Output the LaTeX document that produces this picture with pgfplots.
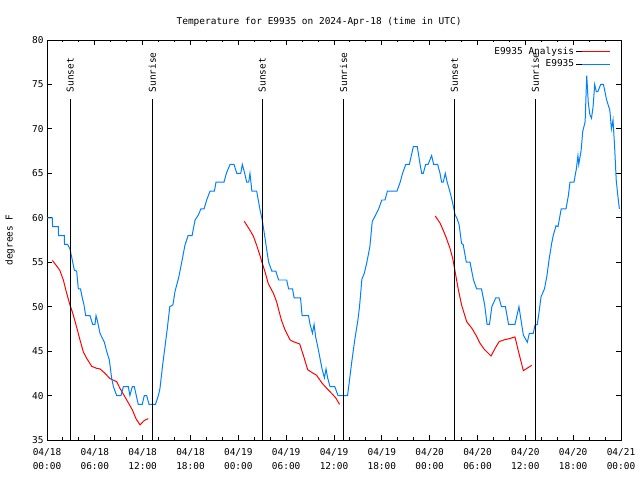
\documentclass[border=0pt]{standalone}
\usepackage{pgfplots}
\pgfplotsset{compat=1.18}
\usepackage{fontspec}
\setmainfont{DejaVu Sans Mono}
\definecolor{obsblue}{RGB}{0,128,255}
\definecolor{anared}{RGB}{255,0,0}
\begin{document}
\begin{tikzpicture}[font=\fontsize{9.5}{11}\selectfont]
\useasboundingbox (0,0) rectangle (640bp,480bp);
\begin{axis}[
  at={(47bp,40bp)}, anchor=south west,
  width=574bp, height=400bp, scale only axis,
  xmin=0, xmax=72, ymin=35, ymax=80,
  xtick={0,6,...,72},
  xticklabels={{04/18\\[3pt]00:00},{04/18\\[3pt]06:00},{04/18\\[3pt]12:00},{04/18\\[3pt]18:00},{04/19\\[3pt]00:00},{04/19\\[3pt]06:00},{04/19\\[3pt]12:00},{04/19\\[3pt]18:00},{04/20\\[3pt]00:00},{04/20\\[3pt]06:00},{04/20\\[3pt]12:00},{04/20\\[3pt]18:00},{04/21\\[3pt]00:00}},
  xticklabel style={align=center, yshift=-5bp},
  minor x tick num=2,
  ytick={35,40,...,80},
  /pgf/number format/assume math mode=true,
  tick align=inside,
  major tick length=5bp, minor tick length=2.5bp,
  tick style={black, line width=1pt},
  axis line style={line width=1pt},
  title={Temperature for E9935 on 2024-Apr-18 (time in UTC)},
  title style={at={(axis description cs:0.474,1)}, anchor=base, yshift=10bp},
  ylabel={degrees F},
  ylabel style={at={(axis description cs:-0.0645,0.5)}, anchor=center},
  legend style={at={(1,1)}, anchor=north east, draw=none, fill=none, xshift=-7bp, yshift=-3bp, row sep=0bp},
  legend cell align=right,
  legend plot pos=right,
  clip=false,
]
\addlegendimage{legend image code/.code={\path (0bp,0bp) -- (34bp,0bp); \draw[draw=anared, line width=1pt] (6bp,0bp) -- (34bp,0bp);}}
\addlegendentry{E9935 Analysis}
\addlegendimage{legend image code/.code={\path (0bp,0bp) -- (34bp,0bp); \draw[draw=obsblue, line width=1pt] (6bp,0bp) -- (34bp,0bp);}}
\addlegendentry{E9935}
% Analysis segment 1
\addplot[anared, line width=1pt, forget plot] coordinates {
(0.67,55.2) (1.2,54.6) (1.6,54.1) (2.05,53) (2.47,51.5) (2.88,50.2) (3.3,49.06) (3.7,47.75) (4.14,46.25) (4.56,44.9) (4.97,44.2) (5.6,43.3) (6.23,43.06) (6.65,43) (7.28,42.5) (7.9,41.9) (8.74,41.56) (9.16,40.8) (10.0,39.5) (10.7,38.4) (11.16,37.4) (11.67,36.7) (12.2,37.2) (12.7,37.4)
};
\addplot[obsblue, line width=1pt, forget plot] coordinates {
(0,60) (0.67,60) (0.7,59) (1.42,59) (1.45,58) (2.17,58) (2.2,57) (2.58,57) (2.88,56.5) (3.09,55.6) (3.43,54.1) (3.72,54) (3.93,52) (4.2,52) (4.4,51.1) (4.64,50.2) (4.85,49) (5.39,49) (5.73,48) (6.02,48) (6.15,49) (6.3,48.5) (6.65,47) (7.19,46) (7.48,45) (7.82,44) (8.1,42) (8.33,41) (8.74,40) (9.28,40) (9.58,41) (10.2,41) (10.4,40) (10.7,41) (10.95,41) (11.45,39) (11.95,39) (12.2,40) (12.5,40) (12.8,39) (13.6,39) (13.97,40) (14.17,40.8) (14.5,43.4) (14.8,45.5) (15.1,47.6) (15.4,50) (15.8,50.2) (16.05,51.7) (16.5,53.2) (16.9,55) (17.3,56.9) (17.7,58) (18.2,58) (18.57,59.75) (18.98,60.3) (19.3,61) (19.7,61) (20.03,62) (20.45,63) (21,63) (21.2,64) (22.2,64) (22.5,65) (22.96,66) (23.46,66) (23.8,65) (24.3,65) (24.5,66) (24.8,65) (25.05,64) (25.3,64) (25.46,65) (25.7,63) (26.3,63) (26.7,61) (27.0,59.75) (27.35,57.7) (27.56,56.4) (27.8,55) (28.2,54) (28.7,54) (29.05,53) (30.07,53) (30.3,52) (30.8,52) (31.0,51) (31.8,51) (32.0,49) (32.8,49) (33.0,48) (33.3,47) (33.5,48) (33.7,46.6) (33.96,45.5) (34.2,44.4) (34.5,43) (34.8,42) (35.0,43) (35.2,42) (35.5,41) (36.1,41) (36.5,40) (37.7,40) (37.9,41.4) (38.2,43.6) (38.6,46.25) (39.0,48.5) (39.2,50) (39.5,53.1) (39.8,53.75) (40.1,54.9) (40.5,56.75) (40.8,59.6) (41.1,60.1) (41.6,61) (42.0,62) (42.4,62) (42.7,63) (43.9,63) (44.3,64) (44.6,65) (45.0,66) (45.45,66) (45.95,68) (46.45,68) (46.8,66) (47.0,65) (47.2,65) (47.5,66) (47.8,66) (48.25,67) (48.5,66) (49.0,66) (49.3,65) (49.5,64) (49.7,64) (49.96,65) (50.2,64) (50.55,62.9) (50.9,61.6) (51.2,60.3) (51.4,60) (51.7,59.2) (52.0,57.1) (52.2,57) (52.6,55) (53.06,55) (53.5,53) (53.9,52) (54.5,52) (54.9,50.2) (55.2,48) (55.5,48) (55.8,50) (56.3,51) (56.7,51) (57.0,50) (57.5,50) (57.9,48) (58.7,48) (59.2,50) (59.75,46.8) (60.25,46) (60.5,47) (61.0,47) (61.2,47.9) (61.5,48) (61.7,49.25) (61.97,51.1) (62.4,52) (62.7,53.4) (62.97,55.25) (63.3,57.1) (63.5,58) (63.85,59.1) (64.1,59) (64.5,61) (65.1,61) (65.4,62.5) (65.6,64) (66.1,64) (66.4,65.5) (66.6,67) (66.7,66) (67.0,67.6) (67.2,69.7) (67.5,70.8) (67.7,76) (67.9,72.9) (68.1,71.6) (68.3,71.2) (68.5,72.5) (68.7,75) (68.9,74.2) (69.1,74.2) (69.45,75) (69.8,75) (70.2,73.25) (70.6,72.1) (70.8,70) (71.0,71) (71.2,68) (71.4,64.25) (71.6,62.5) (71.8,61)
};
% Analysis segment 2
\addplot[anared, line width=1pt, forget plot] coordinates {
(24.75,59.6) (25.46,58.6) (25.9,57.9) (26.3,56.9) (26.7,55.8) (27.0,54.9) (27.4,53.75) (27.75,52.6) (28.4,51.5) (28.8,50.56) (29.1,49.5) (29.4,48.5) (29.85,47.4) (30.5,46.25) (30.9,46.06) (31.7,45.8) (32.2,44.4) (32.7,42.9) (33.4,42.5) (33.8,42.3) (34.5,41.4) (35.1,40.8) (35.7,40.25) (36.25,39.7) (36.7,39.0)
};
% Analysis segment 3
\addplot[anared, line width=1pt, forget plot] coordinates {
(48.7,60.2) (49.3,59.4) (49.7,58.6) (50.1,57.7) (50.55,56.56) (50.9,55.4) (51.2,53.9) (51.6,51.9) (52.0,50.2) (52.65,48.3) (53.3,47.56) (53.8,46.8) (54.3,45.9) (54.85,45.2) (55.7,44.45) (56.2,45.3) (56.7,46.06) (57.45,46.3) (58.0,46.4) (58.7,46.6) (59.1,45.1) (59.75,42.8) (60.2,43.06) (60.8,43.4)
};
% Sunset / sunrise lines
\addplot[black, line width=1pt, forget plot] coordinates {(2.92,35) (2.92,73.4)};
\addplot[black, line width=1pt, forget plot] coordinates {(13.2,35) (13.2,73.4)};
\addplot[black, line width=1pt, forget plot] coordinates {(27.0,35) (27.0,73.4)};
\addplot[black, line width=1pt, forget plot] coordinates {(37.2,35) (37.2,73.4)};
\addplot[black, line width=1pt, forget plot] coordinates {(51.1,35) (51.1,73.4)};
\addplot[black, line width=1pt, forget plot] coordinates {(61.25,35) (61.25,73.4)};
\node[rotate=90, anchor=west, inner sep=0pt] at (axis cs:2.92,74.1) {Sunset};
\node[rotate=90, anchor=west, inner sep=0pt] at (axis cs:13.2,74.1) {Sunrise};
\node[rotate=90, anchor=west, inner sep=0pt] at (axis cs:27.0,74.1) {Sunset};
\node[rotate=90, anchor=west, inner sep=0pt] at (axis cs:37.2,74.1) {Sunrise};
\node[rotate=90, anchor=west, inner sep=0pt] at (axis cs:51.1,74.1) {Sunset};
\node[rotate=90, anchor=west, inner sep=0pt] at (axis cs:61.25,74.1) {Sunrise};
\end{axis}
\end{tikzpicture}
\end{document}
